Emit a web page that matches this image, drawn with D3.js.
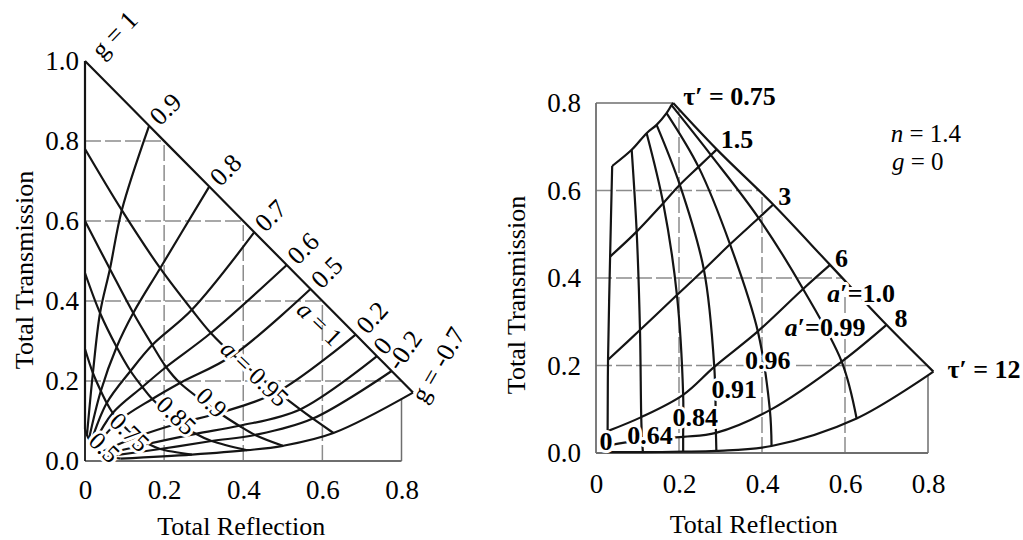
<!DOCTYPE html>
<html>
<head>
<meta charset="utf-8">
<script src="https://cdn.jsdelivr.net/npm/d3@7"></script>
<style>
  html, body { margin: 0; padding: 0; background: #fff; }
  svg { display: block; }
  text { font-family: "Liberation Serif", "Times New Roman", serif; fill: #000; }
</style>
</head>
<body>
<svg id="chart" width="1023" height="540"></svg>
<script>
// ---------------- Left panel: slab of optical depth 5, albedo a, anisotropy g ----------------
const leftAlbedos = [1, 0.95, 0.9, 0.85, 0.75, 0.5];
const leftAnisotropy = [1, 0.9, 0.8, 0.7, 0.6, 0.5, 0.2, 0, -0.2, -0.7];
// rows follow leftAlbedos, columns follow leftAnisotropy
const leftReflection = [
  [0, 0.162, 0.314, 0.428, 0.510, 0.570, 0.684, 0.738, 0.775, 0.829],
  [0, 0.093, 0.190, 0.270, 0.318, 0.375, 0.487, 0.544, 0.576, 0.628],
  [0, 0.063, 0.122, 0.170, 0.205, 0.240, 0.340, 0.390, 0.430, 0.500],
  [0, 0.038, 0.080, 0.115, 0.145, 0.170, 0.240, 0.280, 0.320, 0.410],
  [0, 0.020, 0.040, 0.055, 0.070, 0.085, 0.130, 0.160, 0.190, 0.270],
  [0, 0.005, 0.010, 0.015, 0.020, 0.025, 0.040, 0.050, 0.060, 0.090]
];
const leftTransmission = [
  [1.00, 0.838, 0.686, 0.572, 0.490, 0.430, 0.316, 0.262, 0.225, 0.171],
  [0.78, 0.627, 0.482, 0.378, 0.320, 0.265, 0.173, 0.129, 0.106, 0.070],
  [0.60, 0.480, 0.370, 0.290, 0.235, 0.195, 0.120, 0.088, 0.065, 0.038],
  [0.47, 0.370, 0.285, 0.225, 0.185, 0.155, 0.095, 0.068, 0.050, 0.027],
  [0.28, 0.220, 0.175, 0.145, 0.120, 0.100, 0.060, 0.043, 0.030, 0.016],
  [0.08, 0.065, 0.055, 0.047, 0.040, 0.034, 0.022, 0.016, 0.012, 0.006]
];
const leftGLabels = ["g = 1", "0.9", "0.8", "0.7", "0.6", "0.5", "0.2", "0", "-0.2", "g = -0.7"];
const leftALabels = ["a = 1", "a = 0.95", "0.9", "0.85", "0.75", "0.5"];
const leftXTicks = [0, 0.2, 0.4, 0.6, 0.8];
const leftXTickLabels = ["0", "0.2", "0.4", "0.6", "0.8"];
const leftYTicks = [0, 0.2, 0.4, 0.6, 0.8, 1.0];
const leftYTickLabels = ["0.0", "0.2", "0.4", "0.6", "0.8", "1.0"];

// ---------------- Right panel: n = 1.4, g = 0, reduced optical depth and albedo ----------------
const rightTaus = [0.75, 1.5, 3, 6, 8, 12];
const rightAlbedos = [0, 0.64, 0.84, 0.91, 0.96, 0.99, 1.0];
// rows follow rightTaus, columns follow rightAlbedos
const rightReflection = [
  [0.039, 0.086, 0.122, 0.146, 0.170, 0.182, 0.186],
  [0.034, 0.098, 0.162, 0.202, 0.247, 0.277, 0.291],
  [0.029, 0.106, 0.195, 0.260, 0.323, 0.392, 0.427],
  [0.028, 0.109, 0.210, 0.285, 0.390, 0.499, 0.564],
  [0.028, 0.111, 0.210, 0.289, 0.419, 0.592, 0.700],
  [0.027, 0.113, 0.210, 0.290, 0.423, 0.628, 0.813]
];
const rightTransmission = [
  [0.656, 0.693, 0.731, 0.750, 0.777, 0.795, 0.800],
  [0.449, 0.506, 0.571, 0.613, 0.654, 0.681, 0.694],
  [0.213, 0.281, 0.361, 0.419, 0.477, 0.537, 0.568],
  [0.050, 0.082, 0.133, 0.197, 0.278, 0.375, 0.430],
  [0.017, 0.030, 0.037, 0.046, 0.098, 0.209, 0.293],
  [0.002, 0.002, 0.003, 0.005, 0.016, 0.079, 0.186]
];
const rightTauLabels = ["τ′ = 0.75", "1.5", "3", "6", "8", "τ′ = 12"];
const rightALabels = ["0", "0.64", "0.84", "0.91", "0.96", "a′=0.99", "a′=1.0"];
const rightXTicks = [0, 0.2, 0.4, 0.6, 0.8];
const rightXTickLabels = ["0", "0.2", "0.4", "0.6", "0.8"];
const rightYTicks = [0, 0.2, 0.4, 0.6, 0.8];
const rightYTickLabels = ["0.0", "0.2", "0.4", "0.6", "0.8"];

// ---------------- drawing ----------------
const svg = d3.select("#chart");
svg.append("rect").attr("width", 1023).attr("height", 540).attr("fill", "#fff");

const INK = "#141414";
const GRID = "#8c8c8c";
const FRAME = "#6e6e6e";

// smallest crossing of a vertical (axis "x") or horizontal (axis "y") line with a polyline
function crossing(poly, axis, v) {
  let best = Infinity;
  for (let i = 0; i < poly.length - 1; i++) {
    const [r0, t0] = poly[i], [r1, t1] = poly[i + 1];
    if (axis === "x") {
      if ((r0 - v) * (r1 - v) <= 0 && r0 !== r1) best = Math.min(best, t0 + (t1 - t0) * (v - r0) / (r1 - r0));
    } else {
      if ((t0 - v) * (t1 - v) <= 0 && t0 !== t1) best = Math.min(best, r0 + (r1 - r0) * (v - t0) / (t1 - t0));
    }
  }
  return best;
}

function splitLabel(label, italicLetters) {
  const first = label[0];
  if (italicLetters.includes(first)) return [{ text: first, italic: true }, { text: label.slice(1) }];
  return [{ text: label }];
}

function addLabel(parent, parts, x, y, o = {}) {
  const t = parent.append("text")
    .attr("transform", `translate(${x},${y})` + (o.rotate ? ` rotate(${o.rotate})` : ""))
    .attr("font-size", o.size || 24)
    .attr("text-anchor", o.anchor || "start");
  if (o.bold) t.attr("font-weight", "bold");
  if (o.baseline) t.attr("dominant-baseline", o.baseline);
  if (o.halo) t.attr("stroke", "#fff").attr("stroke-width", o.halo)
    .attr("stroke-linejoin", "round").attr("paint-order", "stroke");
  parts.forEach(p => {
    const s = t.append("tspan").text(p.text);
    if (p.italic) s.attr("font-style", "italic");
  });
  return t;
}

function drawPanel(p) {
  const g = svg.append("g");
  const { x, y } = p;
  const line = d3.line().x(d => x(d[0])).y(d => y(d[1])).curve(d3.curveCatmullRom.alpha(0.5));

  // grid, clipped by the outer curves of the chart
  const gridG = g.append("g").attr("fill", "none").attr("stroke-width", 1.5);
  p.xTicks.filter(v => v > 0).forEach(v => {
    const top = d3.min(p.outline, poly => crossing(poly, "x", v));
    const solid = v === p.xTicks[p.xTicks.length - 1];
    gridG.append("line")
      .attr("x1", x(v)).attr("x2", x(v)).attr("y1", y(0)).attr("y2", y(top))
      .attr("stroke", solid ? FRAME : GRID)
      .attr("stroke-dasharray", solid ? null : "16,4");
  });
  p.yTicks.filter(v => v > 0 && v < 1).forEach(v => {
    const right = d3.min(p.outline, poly => crossing(poly, "y", v));
    const solid = v === p.topFrame;
    gridG.append("line")
      .attr("x1", x(0)).attr("x2", x(right)).attr("y1", y(v)).attr("y2", y(v))
      .attr("stroke", solid ? FRAME : GRID)
      .attr("stroke-dasharray", solid ? null : "16,4");
  });

  // frame
  g.append("line").attr("x1", x(0)).attr("x2", x(p.xTicks[p.xTicks.length - 1]))
    .attr("y1", y(0)).attr("y2", y(0)).attr("stroke", FRAME).attr("stroke-width", 1.8);
  g.append("line").attr("x1", x(0)).attr("x2", x(0))
    .attr("y1", y(0)).attr("y2", y(p.yTicks[p.yTicks.length - 1]))
    .attr("stroke", p.leftSpineColor).attr("stroke-width", 1.8);

  // curves: one family per row, one per column
  const curves = g.append("g").attr("fill", "none").attr("stroke", INK)
    .attr("stroke-width", 2.2).attr("stroke-linejoin", "round");
  p.R.forEach((row, i) => {
    curves.append("path").attr("d", line(row.map((r, j) => [r, p.T[i][j]])));
  });
  p.R[0].forEach((_, j) => {
    curves.append("path").attr("d", line(p.R.map((row, i) => [row[j], p.T[i][j]])));
  });

  // axes
  const ax = g.append("g").attr("transform", `translate(0,${y(0)})`)
    .call(d3.axisBottom(x).tickValues(p.xTicks).tickFormat((d, i) => p.xTickLabels[i])
      .tickSize(0).tickPadding(p.xPad));
  const ay = g.append("g").attr("transform", `translate(${x(0)},0)`)
    .call(d3.axisLeft(y).tickValues(p.yTicks).tickFormat((d, i) => p.yTickLabels[i])
      .tickSize(0).tickPadding(p.yPad));
  [ax, ay].forEach(a => {
    a.select(".domain").remove();
    a.selectAll("text").attr("font-size", 27)
      .attr("font-family", '"Liberation Serif", "Times New Roman", serif').attr("fill", "#111");
  });

  // axis titles
  g.append("text").attr("x", p.xTitle[0]).attr("y", p.xTitle[1])
    .attr("text-anchor", "middle").attr("font-size", 26)
    .attr("textLength", 168).attr("lengthAdjust", "spacingAndGlyphs")
    .text("Total Reflection");
  g.append("text").attr("transform", `translate(${p.yTitle[0]},${p.yTitle[1]}) rotate(-90)`)
    .attr("text-anchor", "middle").attr("font-size", 26)
    .text("Total Transmission");
  return g;
}

// ---------- left panel ----------
const xL = d3.scaleLinear().domain([0, 0.8]).range([85, 401.5]);
const yL = d3.scaleLinear().domain([0, 1]).range([461, 61]);
const lastG = leftAnisotropy.length - 1;
const leftPanel = drawPanel({
  x: xL, y: yL, R: leftReflection, T: leftTransmission,
  xTicks: leftXTicks, yTicks: leftYTicks, xTickLabels: leftXTickLabels, yTickLabels: leftYTickLabels,
  outline: [
    leftAnisotropy.map((_, j) => [leftReflection[0][j], leftTransmission[0][j]]),
    [0, 1].map(i => [leftReflection[i][lastG], leftTransmission[i][lastG]])
  ],
  topFrame: null, leftSpineColor: INK,
  xPad: 18.5, yPad: 6,
  xTitle: [xL(0.395), 535], yTitle: [33, 270]
});

// anisotropy labels continue each g-curve beyond the a = 1 edge
const gLabelShift = [[17, -1], [11, 1], [11, 1], [11, 1], [11, 1], [11, 1], [12, 1], [8, 0], [8, 1], [12, 12]];
const gLabelTurn = [-46, -45, -45, -45, -45, -45, -48, -50, -55, -60];
leftGLabels.forEach((lab, j) => {
  addLabel(leftPanel, [{ text: lab }],
    xL(leftReflection[0][j]) + gLabelShift[j][0],
    yL(leftTransmission[0][j]) + gLabelShift[j][1],
    { rotate: gLabelTurn[j], size: 26 });
});

// albedo labels sit on their curves
const aLabelAt = [[0.594, 0.345], [0.43, 0.22], [0.321, 0.147], [0.232, 0.115], [0.114, 0.073], [0.05, 0.035]];
leftALabels.forEach((lab, i) => {
  addLabel(leftPanel, splitLabel(lab, ["a"]), xL(aLabelAt[i][0]), yL(aLabelAt[i][1]),
    { rotate: 44, size: 25, anchor: "middle", baseline: "central", halo: i === 0 ? 0 : 6 });
});

// ---------- right panel ----------
const xR = d3.scaleLinear().domain([0, 0.8]).range([596, 928]);
const yR = d3.scaleLinear().domain([0, 0.8]).range([453, 103]);
const lastA = rightAlbedos.length - 1;
const lastTau = rightTaus.length - 1;
const rightPanel = drawPanel({
  x: xR, y: yR, R: rightReflection, T: rightTransmission,
  xTicks: rightXTicks, yTicks: rightYTicks, xTickLabels: rightXTickLabels, yTickLabels: rightYTickLabels,
  outline: [
    rightTaus.map((_, i) => [rightReflection[i][lastA], rightTransmission[i][lastA]]),
    [lastA - 1, lastA].map(j => [rightReflection[lastTau][j], rightTransmission[lastTau][j]])
  ],
  topFrame: 0.8, leftSpineColor: FRAME,
  xPad: 20.5, yPad: 15,
  xTitle: [xR(0.38), 533], yTitle: [525, 295]
});

// optical-depth labels at the a' = 1 end of each curve
const tauShift = [[10, 2], [4, -1], [5, 0], [5, 2], [8, 2], [14, 6]];
rightTauLabels.forEach((lab, i) => {
  addLabel(rightPanel, [{ text: lab }],
    xR(rightReflection[i][lastA]) + tauShift[i][0],
    yR(rightTransmission[i][lastA]) + tauShift[i][1],
    { size: 26, bold: true });
});

// albedo labels placed on the a' curves
const rightALabelAt = [[0.024, 0.027], [0.13, 0.041], [0.239, 0.082], [0.333, 0.146],
                       [0.414, 0.213], [0.552, 0.288], [0.639, 0.366]];
rightALabels.forEach((lab, j) => {
  addLabel(rightPanel, splitLabel(lab, ["a"]), xR(rightALabelAt[j][0]), yR(rightALabelAt[j][1]),
    { size: 26, bold: true, anchor: "middle", baseline: "central", halo: 6 });
});

// medium parameters
addLabel(rightPanel, splitLabel("n = 1.4", ["n"]), xR(0.71), yR(0.711), { size: 25 });
addLabel(rightPanel, splitLabel("g = 0", ["g"]), xR(0.713), yR(0.647), { size: 25 });
</script>
</body>
</html>
